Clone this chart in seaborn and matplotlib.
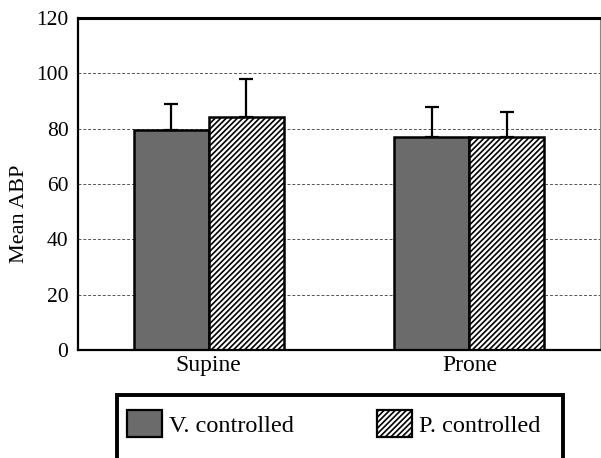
import numpy as np
import pandas as pd
import matplotlib
matplotlib.use("Agg")
import matplotlib.pyplot as plt
from matplotlib.patches import Patch, Rectangle
import seaborn as sns

positions = ["Supine", "Prone"]
groups = ["V. controlled", "P. controlled"]
v_mean = [79.5, 77.0]
p_mean = [84.2, 77.0]
v_err = [9.4, 10.8]
p_err = [13.8, 9.0]

df = pd.DataFrame({
    "position": positions * 2,
    "group": [groups[0]] * 2 + [groups[1]] * 2,
    "abp": v_mean + p_mean,
})
errs = {groups[0]: v_err, groups[1]: p_err}

sns.set_style("white")
plt.rcParams['font.family'] = ['Liberation Serif', 'DejaVu Serif']
plt.rcParams['hatch.linewidth'] = 1.2
plt.rcParams['text.color'] = 'black'
plt.rcParams['axes.labelcolor'] = 'black'
plt.rcParams['xtick.color'] = 'black'
plt.rcParams['ytick.color'] = 'black'

W, H = 601, 458
fig = plt.figure(figsize=(W / 100, H / 100), dpi=100)
ax = fig.add_axes([0.130, 0.236, 0.868, 0.725])

sns.barplot(data=df, x="position", y="abp", hue="group", order=positions,
            hue_order=groups, palette=["#6b6b6b", "white"], width=0.575,
            edgecolor="black", linewidth=1.8, saturation=1, legend=False, ax=ax)

for cont, g in zip(ax.containers, groups):
    xs = [b.get_x() + b.get_width() / 2 for b in cont]
    ys = [b.get_height() for b in cont]
    if g == groups[1]:
        for b in cont:
            b.set_hatch("//////")
    ax.errorbar(xs, ys, yerr=[np.zeros(len(ys)), errs[g]], fmt="none",
                ecolor="black", elinewidth=1.6, capsize=5, capthick=1.6, zorder=1)

ax.set_ylim(0, 120)
ax.set_xlim(-0.5, 1.5)
ax.set_yticks(range(0, 121, 20))
ax.yaxis.grid(True, linestyle=(0, (3, 2)), color="#555555", linewidth=0.7)
ax.set_axisbelow(True)
ax.set_xlabel("")
ax.set_ylabel("Mean ABP", fontsize=16)
ax.yaxis.set_label_coords(-0.095, 0.41)
ax.set_xticks([0, 1])
ax.set_xticks([-0.5, 0.5, 1.5], minor=True)
ax.tick_params(axis="x", which="major", length=0, labelsize=17, pad=4)
ax.tick_params(axis="x", which="minor", length=7, width=1.5, direction="out")
ax.tick_params(axis="y", length=5, width=1.5, direction="out", labelsize=15.5, pad=2)

for s in ["left", "bottom"]:
    ax.spines[s].set_color("black")
    ax.spines[s].set_linewidth(1.6)
ax.spines["top"].set_color("black")
ax.spines["top"].set_linewidth(2.2)
ax.spines["right"].set_color("#888888")
ax.spines["right"].set_linewidth(0.8)

# legend box runs off the bottom of the figure
fig.patches.append(Rectangle((117 / W, -0.05), (563 - 117) / W, 1 - 395 / H + 0.05,
                             transform=fig.transFigure, fill=False, edgecolor="black",
                             linewidth=2.8))
handles = [Patch(facecolor="#6b6b6b", edgecolor="black", linewidth=1.6, label=groups[0]),
           Patch(facecolor="white", edgecolor="black", linewidth=1.6, hatch="//////", label=groups[1])]
leg = fig.legend(handles=handles, loc="upper left", bbox_to_anchor=(127 / W, 1 - 410 / H),
                 ncol=2, fontsize=17.5, frameon=False, handlelength=1.44,
                 handleheight=1.36, handletextpad=0.3, columnspacing=3.4,
                 borderpad=0, borderaxespad=0)

fig.savefig("out.png", dpi=100)
